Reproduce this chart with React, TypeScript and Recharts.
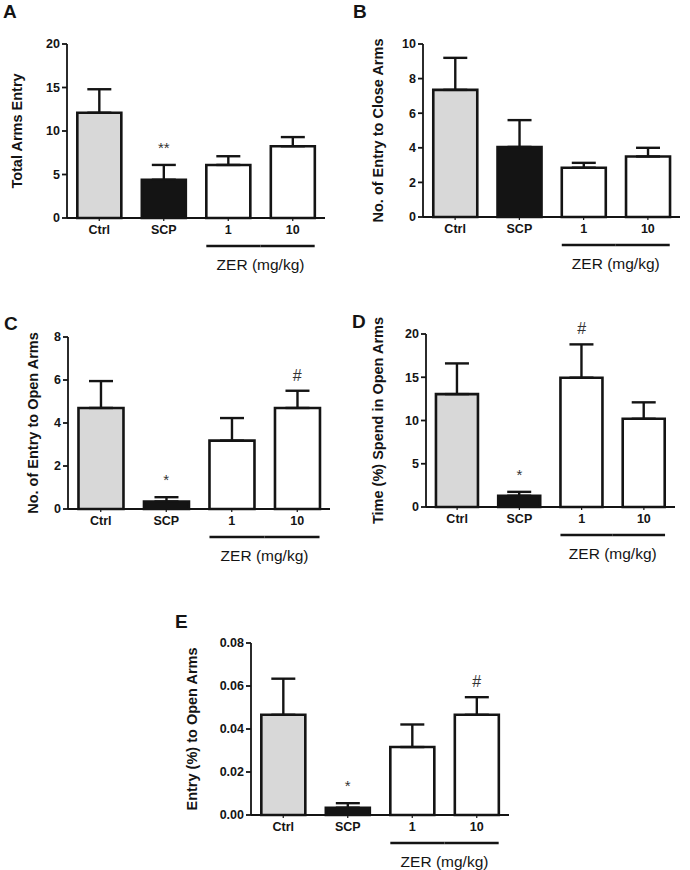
import { BarChart, Bar, Cell, XAxis, YAxis, ErrorBar, ReferenceDot } from "recharts";

const CATEGORIES = ["Ctrl", "SCP", "1", "10"];
const FILLS = ["#d8d8d8", "#141414", "#ffffff", "#ffffff"];

// A - total arms entry
const TOTAL_MEAN = [12.1, 4.4, 6.1, 8.25];
const TOTAL_SEM = [2.7, 1.7, 1.0, 1.05];
const TOTAL_MARKS = ["", "**", "", ""];
const TOTAL_TICKS = [0, 5, 10, 15, 20];

// B - entries to closed arms
const CLOSE_MEAN = [7.35, 4.05, 2.85, 3.5];
const CLOSE_SEM = [1.85, 1.55, 0.28, 0.5];
const CLOSE_MARKS = ["", "", "", ""];
const CLOSE_TICKS = [0, 2, 4, 6, 8, 10];

// C - entries to open arms
const OPEN_MEAN = [4.7, 0.35, 3.18, 4.7];
const OPEN_SEM = [1.25, 0.2, 1.05, 0.8];
const OPEN_MARKS = ["", "*", "", "#"];
const OPEN_TICKS = [0, 2, 4, 6, 8];

// D - time spent in open arms (%)
const TIME_MEAN = [13.05, 1.3, 14.95, 10.2];
const TIME_SEM = [3.55, 0.45, 3.85, 1.9];
const TIME_MARKS = ["", "*", "#", ""];
const TIME_TICKS = [0, 5, 10, 15, 20];

// E - entry (%) to open arms
const PCT_MEAN = [0.0466, 0.0034, 0.0316, 0.0466];
const PCT_SEM = [0.0168, 0.0021, 0.0105, 0.0082];
const PCT_MARKS = ["", "*", "", "#"];
const PCT_TICKS = [0, 0.02, 0.04, 0.06, 0.08];

const INK = "#141414";
const FONT = "'Liberation Sans', Arial, Helvetica, sans-serif";
const YW = 40;
const XH = 50;

function makeTick(catW: number, barHalf: number) {
  return (props: any) => {
    const { x, y, payload, index } = props;
    return (
      <g>
        <text x={x} y={y + 11} textAnchor="middle" fontFamily={FONT} fontSize={12.5} fontWeight="bold" fill={INK}>
          {payload.value}
        </text>
        {index === 2 && (
          <line x1={x - barHalf} x2={x + catW / 2} y1={y + 23} y2={y + 23} stroke={INK} strokeWidth={2.5} />
        )}
        {index === 3 && (
          <line x1={x - catW / 2} x2={x + barHalf} y1={y + 23} y2={y + 23} stroke={INK} strokeWidth={2.5} />
        )}
        {index === 2 && (
          <text x={x + catW / 2} y={y + 47} textAnchor="middle" fontFamily={FONT} fontSize={15.5} fill={INK}>
            ZER (mg/kg)
          </text>
        )}
      </g>
    );
  };
}

function Panel(p: any) {
  const data = CATEGORIES.map((name, i) => ({ name, mean: p.mean[i], err: [0, p.sem[i]] }));
  const catW = (p.plotRight - p.axisX) / CATEGORIES.length;
  const barHalf = catW * 0.34;
  const fmt = p.fmt || ((v: number) => String(v));
  const midY = (p.plotTop + p.plotBottom) / 2;
  return (
    <div style={{ position: "absolute", left: p.left, top: p.top, width: p.width, height: p.height }}>
      <BarChart
        width={p.width}
        height={p.height}
        data={data}
        barCategoryGap="16%"
        margin={{
          top: p.plotTop,
          right: p.width - p.plotRight,
          left: p.axisX - YW,
          bottom: p.height - p.plotBottom - XH,
        }}
      >
        <XAxis
          dataKey="name"
          interval={0}
          height={XH}
          tickSize={3}
          tickMargin={2}
          axisLine={{ stroke: INK, strokeWidth: 1.8 }}
          tickLine={{ stroke: INK, strokeWidth: 1.2 }}
          tick={makeTick(catW, barHalf)}
        />
        <YAxis
          type="number"
          width={YW}
          domain={[p.ticks[0], p.ticks[p.ticks.length - 1]]}
          ticks={p.ticks}
          interval={0}
          tickFormatter={fmt}
          tickSize={5}
          tickMargin={2}
          axisLine={{ stroke: INK, strokeWidth: 1.8 }}
          tickLine={{ stroke: INK, strokeWidth: 1.8 }}
          tick={{ fontFamily: FONT, fontSize: 12.5, fontWeight: "bold", fill: INK }}
        />
        <Bar dataKey="mean" stroke={INK} strokeWidth={2.6} isAnimationActive={false}>
          {data.map((_, i) => (
            <Cell key={i} fill={FILLS[i]} />
          ))}
          <ErrorBar dataKey="err" width={12} stroke={INK} strokeWidth={2.4} direction="y" />
        </Bar>
        {p.marks.map((m: string, i: number) =>
          m ? (
            <ReferenceDot
              key={i}
              x={CATEGORIES[i]}
              y={p.mean[i] + p.sem[i]}
              r={0}
              fill="none"
              stroke="none"
              ifOverflow="visible"
              label={{
                value: m,
                position: "top",
                offset: m === "#" ? 10 : 12,
                fill: "#333",
                fontSize: m === "#" ? 16 : 15,
                fontFamily: FONT,
                style: { fontFamily: FONT },
              }}
            />
          ) : null
        )}
      </BarChart>
      <svg
        width={p.width}
        height={p.height}
        style={{ position: "absolute", left: 0, top: 0, pointerEvents: "none", overflow: "visible" }}
      >
        <text x={p.letterX} y={p.letterY} fontFamily={FONT} fontSize={19} fontWeight="bold" fill={INK}>
          {p.letter}
        </text>
        <text
          x={p.labelX}
          y={midY}
          transform={`rotate(-90 ${p.labelX} ${midY})`}
          textAnchor="middle"
          dominantBaseline="central"
          fontFamily={FONT}
          fontSize={14.5}
          fontWeight="bold"
          fill={INK}
        >
          {p.yLabel}
        </text>
      </svg>
    </div>
  );
}

export default function App() {
  return (
    <div
      style={{
        position: "absolute",
        left: 0,
        top: 0,
        width: 690,
        height: 870,
        background: "#fff",
        fontFamily: FONT,
      }}
    >
      <Panel
        left={0} top={0} width={345} height={290}
        axisX={67} plotRight={325} plotTop={44} plotBottom={218}
        letter="A" letterX={3} letterY={18} labelX={17}
        yLabel="Total Arms Entry"
        mean={TOTAL_MEAN} sem={TOTAL_SEM} marks={TOTAL_MARKS} ticks={TOTAL_TICKS}
      />
      <Panel
        left={345} top={0} width={345} height={290}
        axisX={78} plotRight={335} plotTop={44} plotBottom={217}
        letter="B" letterX={8} letterY={18} labelX={33}
        yLabel="No. of Entry to Close Arms"
        mean={CLOSE_MEAN} sem={CLOSE_SEM} marks={CLOSE_MARKS} ticks={CLOSE_TICKS}
      />
      <Panel
        left={0} top={290} width={345} height={290}
        axisX={68} plotRight={330} plotTop={47} plotBottom={219}
        letter="C" letterX={4} letterY={40} labelX={33}
        yLabel="No. of Entry to Open Arms"
        mean={OPEN_MEAN} sem={OPEN_SEM} marks={OPEN_MARKS} ticks={OPEN_TICKS}
      />
      <Panel
        left={345} top={290} width={345} height={290}
        axisX={81} plotRight={330} plotTop={44} plotBottom={217}
        letter="D" letterX={7} letterY={38} labelX={33}
        yLabel="Time (%) Spend in Open Arms"
        mean={TIME_MEAN} sem={TIME_SEM} marks={TIME_MARKS} ticks={TIME_TICKS}
      />
      <Panel
        left={160} top={580} width={360} height={290}
        axisX={91} plotRight={349} plotTop={63} plotBottom={235}
        letter="E" letterX={15} letterY={48} labelX={32}
        yLabel="Entry (%) to Open Arms"
        mean={PCT_MEAN} sem={PCT_SEM} marks={PCT_MARKS} ticks={PCT_TICKS}
        fmt={(v: number) => v.toFixed(2)}
      />
    </div>
  );
}
